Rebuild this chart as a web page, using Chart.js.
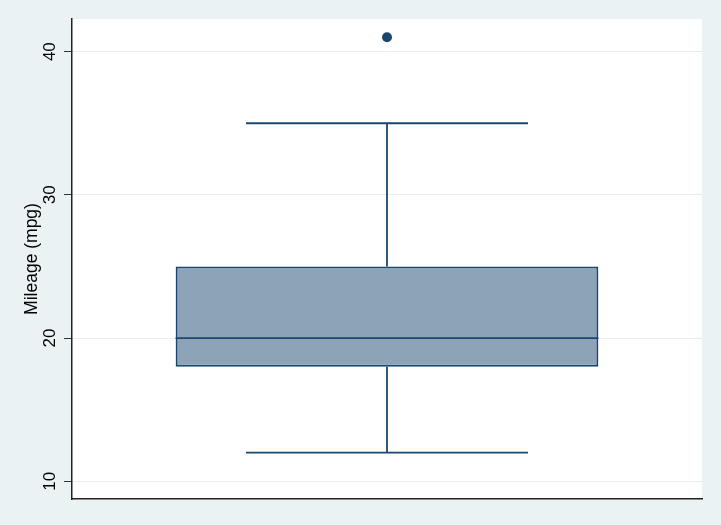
<!DOCTYPE html>
<html>
<head>
<meta charset="utf-8">
<script src="https://cdn.jsdelivr.net/npm/chart.js@4/dist/chart.umd.min.js"></script>
<style>
html,body{margin:0;padding:0;background:#eaf2f3;}
#wrap{width:721px;height:525px;}
</style>
</head>
<body>
<div id="wrap"><canvas id="c" width="721" height="525"></canvas></div>
<script>
// ---- data ----
const categories = ["mpg"];
const lowerWhisker = [12];
const q1 = [18];
const median = [20];
const q3 = [25];
const upperWhisker = [35];
const outliers = [41];
const yTicks = [10, 20, 30, 40];
const yTitle = "Mileage (mpg)";

const NAVY = "#1a476f";

const boxPlugin = {
  id: "boxParts",
  beforeDraw(chart) {
    const {ctx, chartArea: a} = chart;
    ctx.save();
    ctx.fillStyle = "#eaf2f3";
    ctx.fillRect(0, 0, chart.width, chart.height);
    ctx.fillStyle = "#ffffff";
    ctx.fillRect(a.left, a.top, a.right - a.left, a.bottom - a.top);
    ctx.restore();
  },
  afterDatasetsDraw(chart) {
    const {ctx} = chart;
    const y = chart.scales.y;
    const meta = chart.getDatasetMeta(0);
    ctx.save();
    ctx.strokeStyle = NAVY;
    ctx.lineWidth = 1.8;
    meta.data.forEach((bar, i) => {
      const cx = bar.x;
      const half = bar.width / 2;
      const capHalf = half * 0.667;
      const yLo = y.getPixelForValue(lowerWhisker[i]);
      const yQ1 = y.getPixelForValue(q1[i]);
      const yMed = y.getPixelForValue(median[i]);
      const yQ3 = y.getPixelForValue(q3[i]);
      const yHi = y.getPixelForValue(upperWhisker[i]);
      ctx.beginPath();
      ctx.moveTo(cx, yQ1); ctx.lineTo(cx, yLo);
      ctx.moveTo(cx, yQ3); ctx.lineTo(cx, yHi);
      ctx.moveTo(cx - capHalf, yLo); ctx.lineTo(cx + capHalf, yLo);
      ctx.moveTo(cx - capHalf, yHi); ctx.lineTo(cx + capHalf, yHi);
      ctx.moveTo(cx - half, yMed); ctx.lineTo(cx + half, yMed);
      ctx.stroke();
    });
    ctx.restore();
  }
};

new Chart(document.getElementById("c"), {
  type: "bar",
  data: {
    labels: categories,
    datasets: [
      {
        type: "bar",
        data: categories.map((c, i) => [q1[i], q3[i]]),
        backgroundColor: "#8ca3b8",
        borderColor: NAVY,
        borderWidth: 2,
        borderSkipped: false,
        categoryPercentage: 1,
        barPercentage: 0.671,
        grouped: false,
        order: 2
      },
      {
        type: "line",
        data: outliers,
        showLine: false,
        pointRadius: 5,
        pointBackgroundColor: NAVY,
        pointBorderColor: NAVY,
        pointBorderWidth: 0,
        order: 1
      }
    ]
  },
  options: {
    responsive: false,
    animation: false,
    devicePixelRatio: 1,
    layout: {padding: {top: 19, right: 19, bottom: 26, left: 0}},
    plugins: {legend: {display: false}, tooltip: {enabled: false}},
    scales: {
      x: {
        offset: true,
        grid: {display: false},
        ticks: {display: false},
        border: {color: "#222222", width: 1.5},
        afterFit(s) { s.height = 0; }
      },
      y: {
        min: 8.76,
        max: 42.28,
        afterBuildTicks(s) { s.ticks = yTicks.map(v => ({value: v})); },
        afterFit(s) { s.width = 72; },
        grid: {color: "#e6eef0", lineWidth: 1, tickColor: "#333333", tickLength: 8, tickWidth: 1},
        border: {color: "#222222", width: 1.5},
        ticks: {
          minRotation: 90, maxRotation: 90,
          crossAlign: "center",
          padding: 4,
          color: "#000000",
          font: {family: "'Liberation Sans', Arial, sans-serif", size: 17}
        },
        title: {
          display: true,
          text: yTitle,
          color: "#000000",
          padding: {top: 22, bottom: 0},
          font: {family: "'Liberation Sans', Arial, sans-serif", size: 17.5}
        }
      }
    }
  },
  plugins: [boxPlugin]
});
</script>
</body>
</html>
